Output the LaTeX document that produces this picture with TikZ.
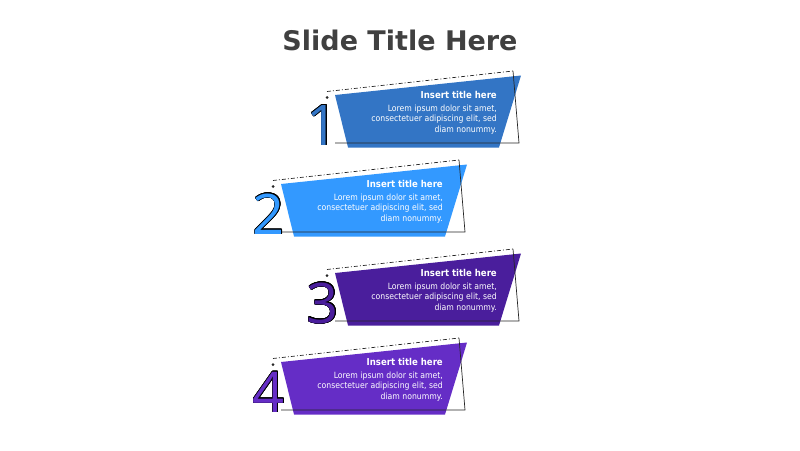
\documentclass[tikz,border=0pt]{standalone}
\usepackage{fontspec}
\setmainfont{DejaVu Sans}
\newfontfamily\numfont{Open Sans}
\newfontfamily\boxfont{DejaVu Sans Condensed}
\usepackage{contour}
\contourlength{0.6pt}
\definecolor{stepA}{HTML}{3375C5}
\definecolor{stepB}{HTML}{3399FF}
\definecolor{stepC}{HTML}{4A1E9C}
\definecolor{stepD}{HTML}{652DC6}
\definecolor{slidegray}{HTML}{404040}

\begin{document}
\begin{tikzpicture}[x=1pt,y=-1pt,
    boxtitle/.style={anchor=base east, inner sep=0pt, text=white,
      font=\boxfont\bfseries\fontsize{9.5}{11}\selectfont},
    boxtext/.style={anchor=north east, align=right, inner sep=0pt, text=white,
      font=\boxfont\fontsize{8.6}{10.5}\selectfont},
    stepnum/.style={anchor=base east, inner sep=0pt,
      font=\numfont\fontsize{56}{56}\selectfont},
    frame/.style={draw=black!85, line width=0.7pt}]
\useasboundingbox (0,0) rectangle (800,450);
\node[font=\bfseries\fontsize{27}{30}\selectfont, text=slidegray] (slidetitle) at (400,40) {Slide Title Here};
% one card for each step
\foreach \dx/\dy/\col/\num in {0/0/stepA/1, -54/89/stepB/2, 0/178/stepC/3, -54/267/stepD/4}
{
  \begin{scope}[shift={(\dx,\dy)}]
    \fill[\col] (335,95) -- (521,75.5) -- (499,147.5) -- (348,147.5) -- cycle;
    \draw[frame, dash pattern=on 4pt off 2pt on 1pt off 2pt] (327,91.5) -- (513,71);
    \draw[frame] (513,71) -- (519,143) -- (335,143);
    \fill[black!85] (327,97.5) circle (1.5);
    \node[boxtitle] (title\num) at (497,98) {Insert title here};
    \node[boxtext] (text\num) at (497,104.5) {Lorem ipsum dolor sit amet,\\consectetuer adipiscing elit, sed\\diam nonummy.};
    \node[stepnum] (num\num) at (339,145) {\contour{black}{\textcolor{\col}{\num}}};
  \end{scope}
}
\end{tikzpicture}
\end{document}
